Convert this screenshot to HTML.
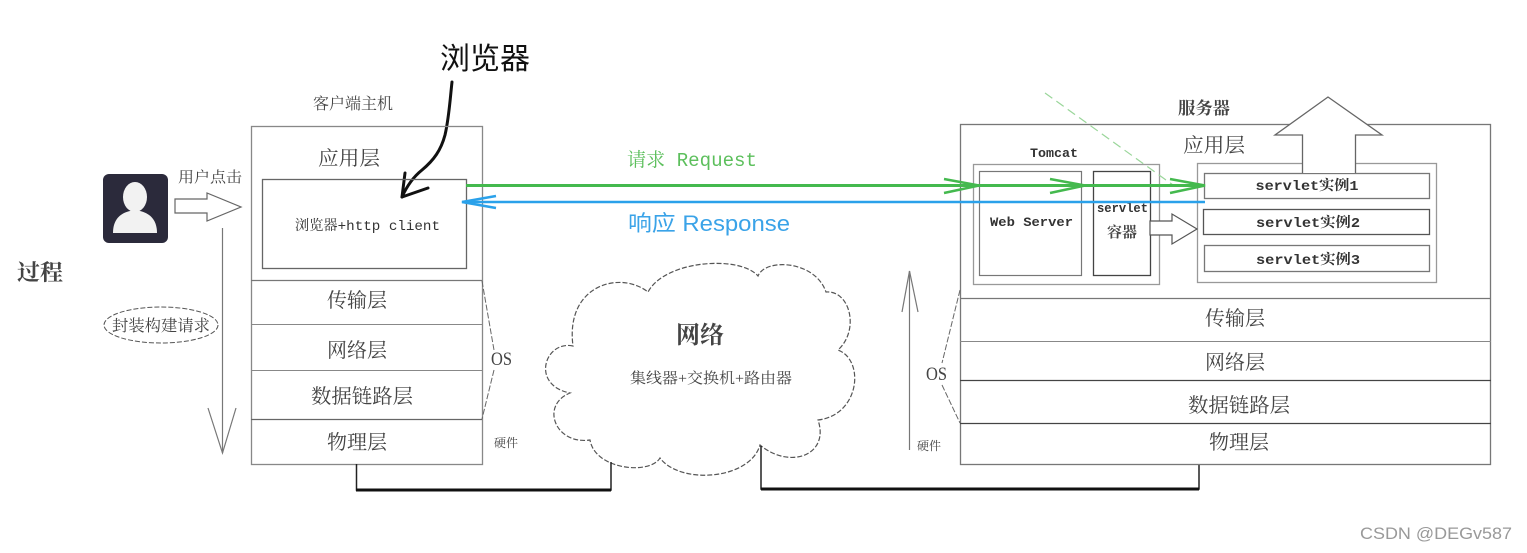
<!DOCTYPE html>
<html><head><meta charset="utf-8"><style>
html,body{margin:0;padding:0;background:#fff;}
svg{display:block;}
.s{font-family:"Liberation Serif","Noto Serif CJK SC",serif;fill:#444;}
.m{font-family:"Liberation Mono","Noto Serif CJK SC",monospace;fill:#333;}
.k{font-family:"Liberation Sans","Noto Sans CJK SC",sans-serif;}
</style></head><body>
<svg width="1527" height="553" viewBox="0 0 1527 553" xmlns="http://www.w3.org/2000/svg">
<rect width="1527" height="553" fill="#fff"/>

<!-- Big label 浏览器 + hand arrow -->
<text x="440" y="69" class="k" font-size="30" fill="#111" textLength="90" lengthAdjust="spacingAndGlyphs">浏览器</text>
<path d="M452 82 C450 100 449 118 445 135 C441 150 434 160 422 170 C412 178 406 188 402 197" fill="none" stroke="#111" stroke-width="3" stroke-linecap="round"/>
<path d="M405 173 L402 197 L428 188" fill="none" stroke="#111" stroke-width="3" stroke-linecap="round" stroke-linejoin="round"/>

<!-- Client host -->
<text x="313" y="109" class="s" font-size="16" fill="#555" textLength="80" lengthAdjust="spacingAndGlyphs">客户端主机</text>
<rect x="251.5" y="126.5" width="231" height="338" fill="none" stroke="#888" stroke-width="1.3"/>
<text x="318" y="165" class="s" font-size="20" textLength="62" lengthAdjust="spacingAndGlyphs">应用层</text>
<rect x="262.5" y="179.5" width="204" height="89" fill="none" stroke="#666" stroke-width="1.3"/>
<text x="295" y="230" class="m" font-size="14" fill="#555" textLength="145" lengthAdjust="spacingAndGlyphs">浏览器+http client</text>
<line x1="251" y1="280.5" x2="482" y2="280.5" stroke="#777" stroke-width="1.3"/>
<line x1="251" y1="324.5" x2="482" y2="324.5" stroke="#888" stroke-width="1"/>
<line x1="251" y1="370.5" x2="482" y2="370.5" stroke="#888" stroke-width="1"/>
<line x1="251" y1="419.5" x2="482" y2="419.5" stroke="#666" stroke-width="1.3"/>
<text x="357" y="307" class="s" font-size="20" text-anchor="middle">传输层</text>
<text x="357" y="357" class="s" font-size="20" text-anchor="middle">网络层</text>
<text x="362" y="403" class="s" font-size="20" text-anchor="middle" textLength="102" lengthAdjust="spacingAndGlyphs">数据链路层</text>
<text x="357" y="449" class="s" font-size="20" text-anchor="middle">物理层</text>
<path d="M482 281 L494 350 M494 370 L482 419" fill="none" stroke="#666" stroke-width="1" stroke-dasharray="6 2"/>
<text x="491" y="365" class="s" font-size="19" textLength="21" lengthAdjust="spacingAndGlyphs">OS</text>
<text x="494" y="447" class="s" font-size="12" fill="#666">硬件</text>

<!-- user -->
<rect x="103" y="174" width="65" height="69" rx="6" fill="#2b2a3b"/>
<ellipse cx="135" cy="197" rx="12" ry="15" fill="#f2f2f2"/>
<path d="M113 233 C113 218 122 213 130 211 L140 211 C148 213 157 218 157 233 Z" fill="#f2f2f2"/>
<text x="178" y="182" class="s" font-size="15" fill="#555" textLength="64" lengthAdjust="spacingAndGlyphs">用户点击</text>
<path d="M175 199 L207 199 L207 193 L241 207 L207 221 L207 213 L175 213 Z" fill="#fff" stroke="#666" stroke-width="1.2"/>
<line x1="222.5" y1="228" x2="222.5" y2="453" stroke="#777" stroke-width="1.2"/>
<path d="M208 408 L222.5 453 L236 408" fill="none" stroke="#777" stroke-width="1.2"/>
<ellipse cx="161" cy="325" rx="57" ry="18" fill="#fff" stroke="#555" stroke-width="1" stroke-dasharray="5 2"/>
<text x="161" y="331" class="s" font-size="16" text-anchor="middle" textLength="98" lengthAdjust="spacingAndGlyphs">封装构建请求</text>
<text x="17" y="280" class="s" font-size="22" font-weight="bold" fill="#222" textLength="46" lengthAdjust="spacingAndGlyphs">过程</text>

<!-- Cloud -->
<path d="M573 346 C545 340 530 385 570 393 C540 405 555 445 590 440 C595 470 650 475 660 458 C680 485 750 480 760 445 C790 470 830 455 818 420 C860 415 865 360 838 350 C860 330 850 290 826 292 C815 260 765 258 758 276 C740 255 665 260 648 292 C620 270 565 285 573 346 Z" fill="#fff" stroke="#555" stroke-width="1.2" stroke-dasharray="5 2"/>
<text x="700" y="343" class="s" font-size="24" font-weight="bold" fill="#222" text-anchor="middle">网络</text>
<text x="711" y="383" class="s" font-size="15" fill="#555" text-anchor="middle" textLength="162" lengthAdjust="spacingAndGlyphs">集线器+交换机+路由器</text>

<!-- bottom wires -->
<path d="M356.5 464 L356.5 490 L611 490 L611 462" fill="none" stroke="#222" stroke-width="1.5"/>
<line x1="356" y1="490" x2="611" y2="490" stroke="#111" stroke-width="3"/>
<path d="M761 446 L761 489 L1199 489 L1199 464" fill="none" stroke="#222" stroke-width="1.5"/>
<line x1="761" y1="489" x2="1199" y2="489" stroke="#111" stroke-width="3"/>

<!-- Server -->
<text x="1178" y="114" class="s" font-size="17" font-weight="bold" fill="#333" textLength="52" lengthAdjust="spacingAndGlyphs">服务器</text>
<rect x="960.5" y="124.5" width="530" height="340" fill="none" stroke="#777" stroke-width="1.3"/>
<text x="1183" y="152" class="s" font-size="20" fill="#555" textLength="62" lengthAdjust="spacingAndGlyphs">应用层</text>
<text x="1030" y="157" class="m" font-size="13" font-weight="bold" textLength="48" lengthAdjust="spacingAndGlyphs">Tomcat</text>
<rect x="973.5" y="164.5" width="186" height="120" fill="none" stroke="#999" stroke-width="1.3"/>
<rect x="979.5" y="171.5" width="102" height="104" fill="none" stroke="#777" stroke-width="1.2"/>
<rect x="1093.5" y="171.5" width="57" height="104" fill="none" stroke="#444" stroke-width="1.3"/>
<text x="990" y="226" class="m" font-size="13" font-weight="bold" textLength="83" lengthAdjust="spacingAndGlyphs">Web Server</text>
<text x="1097" y="212" class="m" font-size="13" font-weight="bold" textLength="51" lengthAdjust="spacingAndGlyphs">servlet</text>
<text x="1107" y="237" class="s" font-size="15" font-weight="bold" fill="#333">容器</text>

<rect x="1197.5" y="163.5" width="239" height="119" fill="none" stroke="#999" stroke-width="1.3"/>
<rect x="1204.5" y="173.5" width="225" height="25" fill="#fff" stroke="#777" stroke-width="1.3"/>
<rect x="1203.5" y="209.5" width="226" height="25" fill="#fff" stroke="#555" stroke-width="1.3"/>
<rect x="1204.5" y="245.5" width="225" height="26" fill="#fff" stroke="#777" stroke-width="1.3"/>
<text x="1307" y="190" class="m" font-size="14" font-weight="bold" text-anchor="middle" textLength="103" lengthAdjust="spacingAndGlyphs">servlet实例1</text>
<text x="1308" y="227" class="m" font-size="14" font-weight="bold" text-anchor="middle" textLength="104" lengthAdjust="spacingAndGlyphs">servlet实例2</text>
<text x="1308" y="264" class="m" font-size="14" font-weight="bold" text-anchor="middle" textLength="104" lengthAdjust="spacingAndGlyphs">servlet实例3</text>

<!-- up hollow arrow -->
<path d="M1302.5 173 L1302.5 135 L1275 135 L1328 97 L1382 135 L1355.5 135 L1355.5 173" fill="#fff" stroke="#666" stroke-width="1.3"/>
<line x1="1303" y1="126" x2="1355" y2="126" stroke="#fff" stroke-width="3"/>

<!-- small hollow arrow -->
<path d="M1150 221 L1172 221 L1172 214 L1197 229 L1172 244 L1172 235 L1150 235 Z" fill="#fff" stroke="#555" stroke-width="1.2"/>

<!-- green dashed -->
<line x1="1045" y1="93" x2="1173" y2="185" stroke="#9ad69a" stroke-width="1.2" stroke-dasharray="9 5"/>

<!-- server layers -->
<line x1="960" y1="298.5" x2="1491" y2="298.5" stroke="#777" stroke-width="1.2"/>
<line x1="960" y1="341.5" x2="1491" y2="341.5" stroke="#888" stroke-width="1"/>
<line x1="960" y1="380.5" x2="1491" y2="380.5" stroke="#444" stroke-width="1.3"/>
<line x1="960" y1="423.5" x2="1491" y2="423.5" stroke="#444" stroke-width="1.3"/>
<text x="1235" y="325" class="s" font-size="20" text-anchor="middle">传输层</text>
<text x="1235" y="369" class="s" font-size="20" text-anchor="middle">网络层</text>
<text x="1239" y="412" class="s" font-size="20" text-anchor="middle" textLength="102" lengthAdjust="spacingAndGlyphs">数据链路层</text>
<text x="1239" y="449" class="s" font-size="20" text-anchor="middle">物理层</text>
<path d="M960 290 L942 363 M942 385 L960 423" fill="none" stroke="#666" stroke-width="1" stroke-dasharray="6 2"/>
<text x="926" y="380" class="s" font-size="19" textLength="21" lengthAdjust="spacingAndGlyphs">OS</text>
<text x="917" y="450" class="s" font-size="12" fill="#666">硬件</text>
<line x1="909.5" y1="271" x2="909.5" y2="450" stroke="#777" stroke-width="1.2"/>
<path d="M902 312 L909.5 271 L918 312" fill="none" stroke="#777" stroke-width="1.2"/>

<!-- request / response -->
<text x="627" y="166" font-size="19" fill="#5cbf5c" font-family="'Liberation Mono','Noto Serif CJK SC',monospace" textLength="130" lengthAdjust="spacingAndGlyphs">请求 Request</text>
<line x1="466" y1="185.5" x2="1205" y2="185.5" stroke="#44b94e" stroke-width="3"/>
<path d="M944 179 L979 185.5 L944 193 M1050 179 L1085 185.5 L1050 193 M1170 179 L1205 185.5 L1170 193" fill="none" stroke="#44b94e" stroke-width="2.5"/>
<line x1="462" y1="202" x2="1205" y2="202" stroke="#2aa1ea" stroke-width="2.5"/>
<path d="M496 196 L462 202 L496 208" fill="none" stroke="#2aa1ea" stroke-width="2.5"/>
<text x="628" y="231" font-size="22" fill="#3aa3e8" font-family="'Liberation Sans','Noto Sans CJK SC',sans-serif" textLength="162" lengthAdjust="spacingAndGlyphs">响应 Response</text>

<!-- watermark -->
<text x="1360" y="539" font-size="17" fill="#999" font-family="'Liberation Sans',sans-serif" textLength="152" lengthAdjust="spacingAndGlyphs">CSDN @DEGv587</text>
</svg>
</body></html>
